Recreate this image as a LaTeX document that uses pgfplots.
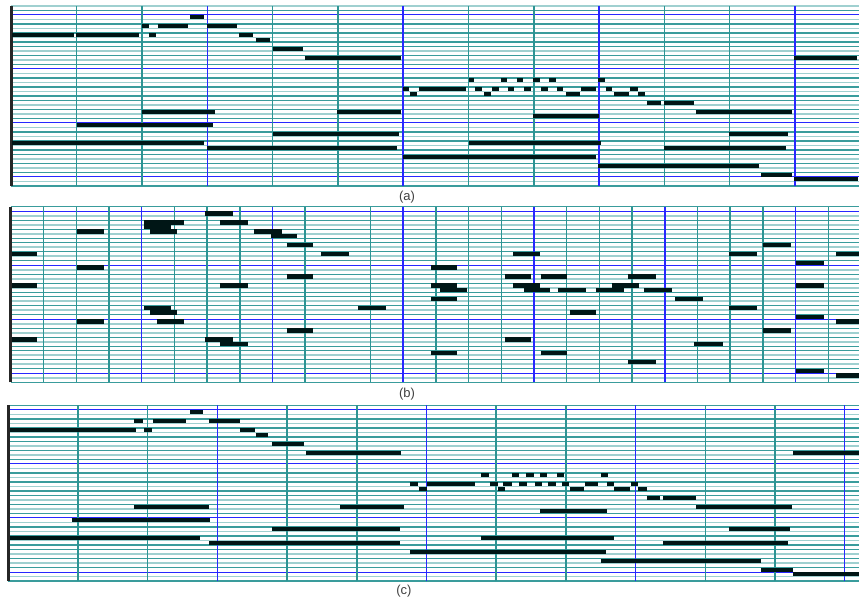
\documentclass[border=0pt]{standalone}
\usepackage{pgfplots}
\pgfplotsset{compat=1.18}
\usepackage{pgfplotstable}
\usepackage{fontspec}
\setmainfont{Liberation Sans}
\definecolor{gdark}{RGB}{58,156,156}
\definecolor{glight}{RGB}{160,208,208}
\definecolor{gvert}{RGB}{45,148,148}
\definecolor{gblue}{RGB}{40,40,255}
\definecolor{notec}{RGB}{0,22,22}

% panel (a): s = start beat, e = end beat, y = row centre
\pgfplotstableread{
s e y
2.74 2.95 37.5
2.00 2.10 35.5
2.24 2.71 35.5
2.99 3.46 35.5
0.01 0.96 33.5
0.99 1.96 33.5
2.11 2.21 33.5
3.49 3.70 33.5
3.74 3.96 32.5
4.00 4.46 30.5
4.49 5.96 28.5
11.99 12.95 28.5
7.00 7.09 23.5
7.49 7.59 23.5
7.74 7.84 23.5
7.99 8.10 23.5
8.24 8.34 23.5
8.99 9.09 23.5
5.99 6.09 21.5
6.24 6.96 21.5
7.10 7.20 21.5
7.36 7.46 21.5
7.60 7.70 21.5
7.85 7.95 21.5
8.11 8.21 21.5
8.35 8.45 21.5
8.73 8.96 21.5
9.10 9.20 21.5
9.48 9.59 21.5
6.10 6.21 20.5
7.24 7.35 20.5
8.49 8.71 20.5
9.23 9.46 20.5
9.60 9.70 20.5
9.73 9.95 18.5
9.99 10.46 18.5
2.00 3.12 16.5
4.99 5.96 16.5
10.48 11.95 16.5
7.99 9.00 15.5
1.00 3.09 13.5
4.00 5.94 11.5
10.99 11.89 11.5
0.01 2.95 9.5
7.00 9.03 9.5
2.99 5.91 8.5
9.99 11.86 8.5
5.99 8.95 6.5
8.99 11.45 4.5
11.48 11.95 2.5
11.99 12.97 1.5
}\notesA

% panel (b)
\pgfplotstableread{
s e y
5.94 6.78 37.5
4.08 5.29 35.5
6.39 7.24 35.5
4.08 4.89 34.5
2.03 2.85 33.5
4.26 5.07 33.5
7.43 8.29 33.5
7.95 8.74 32.5
8.43 9.25 30.5
22.99 23.85 30.5
0.04 0.81 28.5
9.47 10.33 28.5
15.36 16.18 28.5
21.95 22.81 28.5
25.25 25.94 28.5
24.01 24.88 26.5
2.03 2.85 25.5
12.84 13.63 25.5
8.43 9.25 23.5
15.11 15.91 23.5
16.20 17.00 23.5
18.87 19.72 23.5
0.04 0.81 21.5
6.39 7.24 21.5
12.84 13.63 21.5
15.36 16.18 21.5
18.37 19.22 21.5
24.01 24.88 21.5
13.12 13.96 20.5
15.69 16.49 20.5
16.74 17.58 20.5
17.91 18.76 20.5
19.36 20.21 20.5
12.84 13.63 18.5
20.31 21.17 18.5
4.08 4.89 16.5
10.61 11.46 16.5
21.95 22.81 16.5
4.26 5.07 15.5
17.10 17.89 15.5
24.01 24.88 14.5
2.03 2.85 13.5
4.46 5.29 13.5
25.25 25.94 13.5
8.43 9.25 11.5
22.99 23.85 11.5
0.04 0.81 9.5
5.94 6.78 9.5
15.11 15.91 9.5
6.39 7.24 8.5
20.90 21.77 8.5
12.84 13.63 6.5
16.20 17.00 6.5
18.87 19.72 4.5
24.01 24.88 2.5
25.25 25.94 1.5
}\notesB

% panel (c)
\pgfplotstableread{
s e y
2.61 2.80 37.5
1.80 1.93 35.5
2.08 2.55 35.5
2.88 3.32 35.5
0.02 1.83 33.5
1.95 2.06 33.5
3.33 3.54 33.5
3.55 3.73 32.5
3.78 4.24 30.5
4.27 5.64 28.5
11.26 12.20 28.5
6.78 6.90 23.5
7.23 7.33 23.5
7.43 7.54 23.5
7.63 7.73 23.5
7.87 7.97 23.5
8.50 8.61 23.5
5.76 5.88 21.5
6.01 6.70 21.5
6.91 7.02 21.5
7.10 7.22 21.5
7.33 7.44 21.5
7.55 7.65 21.5
7.74 7.86 21.5
7.95 8.05 21.5
8.27 8.46 21.5
8.59 8.69 21.5
8.93 9.03 21.5
5.89 6.00 20.5
7.02 7.12 20.5
8.06 8.26 20.5
8.69 8.92 20.5
9.03 9.16 20.5
9.16 9.35 18.5
9.40 9.86 18.5
1.80 2.88 16.5
4.76 5.67 16.5
9.87 11.25 16.5
7.63 8.59 15.5
0.91 2.90 13.5
3.78 5.62 11.5
10.34 11.21 11.5
0.02 2.75 9.5
6.78 8.69 9.5
2.88 5.62 8.5
9.40 11.18 8.5
5.76 8.57 6.5
8.50 10.80 4.5
10.80 11.26 2.5
11.26 12.20 1.5
}\notesC

\pgfplotsset{
  rollbase/.style={
    scale only axis,
    anchor=south west,
    ymin=0,
    major tick length=0pt, minor tick length=0pt,
    xticklabels={}, yticklabels={},
    extra x tick labels={}, extra y tick labels={},
  },
  % background: horizontal pitch lines only
  rows/.style={
    rollbase,
    axis line style={draw=none},
    xtick=\empty,
    grid=both,
    major grid style={gdark, line width=0.55pt},
    minor grid style={glight, line width=0.8pt},
    ytick={0,3,5,7,8,10,12,15,17,19,20,22,24,27,29,31,32,34,36,39},
    minor ytick={1,4,6,9,11,13,16,18,21,23,25,28,30,33,35,37,40},
    extra y ticks={2,14,26,38},
    extra tick style={grid=major, major grid style={gblue, line width=0.5pt}},
  },
  % foreground: beat lines, keyboard strip, notes
  beats/.style={
    rollbase,
    axis x line*=bottom,
    axis y line*=left,
    x axis line style={draw=none},
    y axis line style={line width=1.5pt, black!85, -},
    ytick=\empty,
    xmajorgrids,
    major grid style={gvert, line width=0.75pt},
    extra tick style={grid=major, major grid style={gblue, line width=0.75pt}},
  },
  notes/.style={notec, line width=2.1pt, line cap=butt,
    quiver={u=\thisrow{e}-\thisrow{s}, v=0}},
}

\begin{document}
\begin{tikzpicture}
\path[use as bounding box] (0,0) rectangle (429.5pt,300.5pt);

% (a)
\begin{axis}[rows, at={(5.7pt,207.5pt)}, width=423.8pt, height=90pt,
  xmin=0, xmax=12.98, ymax=40]
\end{axis}
\begin{axis}[beats, at={(5.7pt,207.5pt)}, width=423.8pt, height=90pt,
  xmin=0, xmax=12.98, ymax=40,
  xtick={1,2,4,5,7,8,10,11}, extra x ticks={3,6,9,12}]
\addplot[notes] table[x=s, y=y] {\notesA};
\end{axis}

% (b)
\begin{axis}[rows, at={(5.45pt,109.35pt)}, width=424.05pt, height=87.75pt,
  xmin=0, xmax=25.94, ymax=39,
  minor ytick={1,4,6,9,11,13,16,18,21,23,25,28,30,33,35,37}]
\end{axis}
\begin{axis}[beats, at={(5.45pt,109.35pt)}, width=424.05pt, height=87.75pt,
  xmin=0, xmax=25.94, ymax=39,
  xtick={1,2,3,5,6,7,9,11,13,14,15,17,18,19,21,22,23,25},
  extra x ticks={4,8,12,16,20,24}]
\addplot[notes] table[x=s, y=y] {\notesB};
\end{axis}

% (c)
\begin{axis}[rows, at={(4.15pt,10pt)}, width=425.35pt, height=87.75pt,
  xmin=0, xmax=12.205, ymax=39,
  minor ytick={1,4,6,9,11,13,16,18,21,23,25,28,30,33,35,37}]
\end{axis}
\begin{axis}[beats, at={(4.15pt,10pt)}, width=425.35pt, height=87.75pt,
  xmin=0, xmax=12.205, ymax=39,
  xtick={1,2,4,5,7,8,10,11}, extra x ticks={3,6,9,12}]
\addplot[notes] table[x=s, y=y] {\notesC};
\end{axis}

\node[font=\fontsize{6.5}{7.5}\selectfont, text=black!75] at (203.5pt,202pt) {(a)};
\node[font=\fontsize{6.5}{7.5}\selectfont, text=black!75] at (203.5pt,103.5pt) {(b)};
\node[font=\fontsize{6.5}{7.5}\selectfont, text=black!75] at (202pt,5pt) {(c)};
\end{tikzpicture}
\end{document}
